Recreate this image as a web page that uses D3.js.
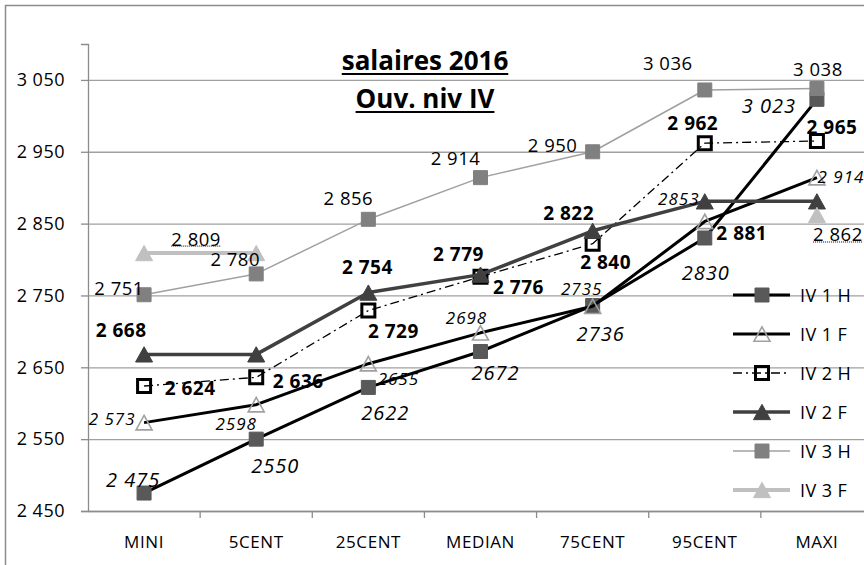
<!DOCTYPE html>
<html>
<head>
<meta charset="utf-8">
<script src="https://cdn.jsdelivr.net/npm/d3@7"></script>
<style>
  html, body { margin: 0; padding: 0; background: #fff; }
  svg { display: block; font-family: 'Open Sans', sans-serif; }
</style>
</head>
<body>
<div class="chart"></div>
<script>
// catégories et séries
let categories = ['MINI', '5CENT', '25CENT', 'MEDIAN', '75CENT', '95CENT', 'MAXI']
let seriesNames = ['IV 1 H', 'IV 1 F', 'IV 2 H', 'IV 2 F', 'IV 3 H', 'IV 3 F']
let iv1H = [2475, 2550, 2622, 2672, 2736, 2830, 3023]
let iv1F = [2573, 2598, 2655, 2698, 2735, 2853, 2914]
let iv2H = [2624, 2636, 2729, 2776, 2822, 2962, 2965]
let iv2F = [2668, 2668, 2754, 2779, 2840, 2881, 2881]
let iv3H = [2751, 2780, 2856, 2914, 2950, 3036, 3038]
let iv3F = [2809, 2809, null, null, null, null, 2862]
// étiquettes de données telles qu'affichées
let lab1H = ['2 475', '2550', '2622', '2672', '2736', '2830', '3 023']
let lab1F = ['2 573', '2598', '2655', '2698', '2735', '2853', '2 914']
let lab2H = ['2 624', '2 636', '2 729', '2 776', '2 840', '2 962', '2 965']
let lab2F = ['2 668', null, '2 754', '2 779', '2 822', '2 881', null]
let lab3H = ['2 751', '2 780', '2 856', '2 914', '2 950', '3 036', '3 038']
let lab3F = ['2 809', null, null, null, null, null, '2 862']
let yTicks = [2450, 2550, 2650, 2750, 2850, 2950, 3050]
let yTickLabels = ['2 450', '2 550', '2 650', '2 750', '2 850', '2 950', '3 050']
let title = ['salaires 2016', 'Ouv. niv IV']

let W = 864
let H = 565
let plot = { left: 88, right: 873, top: 44, bottom: 511 }

let svg = d3.select('.chart').append('svg')
  .attr('width', W)
  .attr('height', H)

let x = d3.scaleBand().domain(categories).range([plot.left, plot.right])
let y = d3.scaleLinear().domain([2450, 3100]).range([plot.bottom, plot.top])
let cx = (c) => x(c) + x.bandwidth() / 2

// cadre du graphique
svg.append('rect')
  .attr('x', 5.5).attr('y', 5.5)
  .attr('width', W + 20).attr('height', H + 20)
  .attr('fill', 'none')
  .attr('stroke', '#8c8c8c')
  .attr('stroke-width', 1.5)

// quadrillage
svg.append('g')
  .attr('transform', `translate(${plot.left},0)`)
  .call(d3.axisLeft(y).tickValues(yTicks).tickSize(-(W - plot.left)).tickFormat(''))
  .call(g => g.select('.domain').remove())
  .call(g => g.selectAll('line').attr('stroke', '#a0a0a0').attr('stroke-width', 1.3))

// axe Y
let gy = svg.append('g')
  .attr('transform', `translate(${plot.left},0)`)
  .call(d3.axisLeft(y).tickValues(yTicks).tickSize(7).tickPadding(16)
    .tickFormat((d, i) => yTickLabels[i]))
gy.select('.domain').attr('stroke', '#8c8c8c').attr('stroke-width', 1.3)
gy.selectAll('line').attr('stroke', '#8c8c8c').attr('stroke-width', 1.3)
gy.selectAll('text').attr('font-size', 18).attr('fill', '#000')
  .attr('font-family', 'Open Sans').attr('letter-spacing', 0.5)

// axe X
let gx = svg.append('g')
  .attr('transform', `translate(0,${plot.bottom})`)
  .call(d3.axisBottom(x).tickSize(0).tickPadding(25))
gx.select('.domain').attr('stroke', '#8c8c8c').attr('stroke-width', 1.3)
gx.selectAll('text').attr('font-size', 17).attr('fill', '#000')
  .attr('font-family', 'Open Sans').attr('letter-spacing', 0.6)
gx.selectAll('.xtick')
  .data(categories)
  .enter().append('line')
  .attr('class', 'xtick')
  .attr('x1', d => x(d) + x.bandwidth())
  .attr('x2', d => x(d) + x.bandwidth())
  .attr('y1', 0).attr('y2', 7)
  .attr('stroke', '#8c8c8c').attr('stroke-width', 1.3)

// marqueurs
function square (s) {
  return `M${-s / 2},${-s / 2}h${s}v${s}h${-s}Z`
}
function triangle (s) {
  let h = s * 0.9
  return `M0,${-h / 2}L${s / 2},${h / 2}L${-s / 2},${h / 2}Z`
}

let series = [
  { name: seriesNames[0], values: iv1H, labels: lab1H, line: '#000', lw: 3, dash: null,
    marker: square(14), mfill: '#595959', mstroke: '#595959', msw: 1,
    font: { size: 20, weight: 'normal', style: 'italic' },
    off: [[-11, -14], [19, 26], [17, 25], [15, 21], [8, 28], [1, 35], [-48, 6]] },
  { name: seriesNames[1], values: iv1F, labels: lab1F, line: '#000', lw: 3, dash: null,
    marker: triangle(16), mfill: 'none', mstroke: '#a0a0a0', msw: 1.6,
    font: { size: 17, weight: 'normal', style: 'italic' },
    off: [[-32, -4], [-20, 19], [30, 15], [-14, -15], [-11, -18], [-26, -23], [24, -1]] },
  { name: seriesNames[2], values: iv2H, labels: lab2H, line: '#000', lw: 1.3, dash: '9,4,2,4',
    marker: square(13), mfill: 'none', mstroke: '#000', msw: 3,
    font: { size: 19, weight: 'bold', style: 'normal' },
    off: [[46, 2], [42, 4], [25, 20], [38, 10], [13, 18], [-12, -20], [15, -14]] },
  { name: seriesNames[3], values: iv2F, labels: lab2F, line: '#404040', lw: 3.5, dash: null,
    marker: triangle(17), mfill: '#404040', mstroke: '#404040', msw: 1,
    font: { size: 19, weight: 'bold', style: 'normal' },
    off: [[-23, -24], [0, 0], [-1, -26], [-22, -21], [-24, -18], [37, 32], [0, 0]] },
  { name: seriesNames[4], values: iv3H, labels: lab3H, line: '#a0a0a0', lw: 1.5, dash: null,
    marker: square(14), mfill: '#808080', mstroke: '#808080', msw: 1,
    font: { size: 18.5, weight: 'normal', style: 'normal' },
    off: [[-25, -7], [-21, -15], [-20, -22], [-25, -20], [-40, -7], [-37, -27], [1, -20]] },
  { name: seriesNames[5], values: iv3F, labels: lab3F, line: '#c0c0c0', lw: 4, dash: null,
    marker: triangle(17), mfill: '#c0c0c0', mstroke: '#c0c0c0', msw: 1,
    font: { size: 18.5, weight: 'normal', style: 'normal' }, dotted: true,
    off: [[52, -15], [0, 0], [0, 0], [0, 0], [0, 0], [0, 0], [21, 19]] }
]

let line = d3.line()
  .defined(d => d.v !== null)
  .x(d => cx(d.c))
  .y(d => y(d.v))

series.forEach(s => {
  let pts = categories.map((c, i) => ({ c: c, v: s.values[i] }))
  let g = svg.append('g').attr('class', 'serie')
  g.append('path')
    .datum(pts)
    .attr('d', line)
    .attr('fill', 'none')
    .attr('stroke', s.line)
    .attr('stroke-width', s.lw)
    .attr('stroke-dasharray', s.dash)
    .attr('stroke-linejoin', 'round')
  g.selectAll('.mk')
    .data(pts.filter(d => d.v !== null))
    .enter().append('path')
    .attr('class', 'mk')
    .attr('d', s.marker)
    .attr('transform', d => `translate(${cx(d.c)},${y(d.v)})`)
    .attr('fill', s.mfill)
    .attr('stroke', s.mstroke)
    .attr('stroke-width', s.msw)
})

// étiquettes de données (au-dessus des séries)
series.forEach(s => {
  let pts = categories.map((c, i) => ({ c: c, v: s.values[i], t: s.labels[i], o: s.off[i] }))
    .filter(d => d.v !== null && d.t)
  let g = svg.append('g').attr('class', 'labels')
  let txt = g.selectAll('text')
    .data(pts)
    .enter().append('text')
    .attr('x', d => cx(d.c) + d.o[0])
    .attr('y', d => y(d.v) + d.o[1])
    .attr('text-anchor', 'middle')
    .attr('dominant-baseline', 'central')
    .attr('font-size', s.font.size)
    .attr('font-weight', s.font.weight)
    .attr('font-style', s.font.style)
    .attr('letter-spacing', s.font.style === 'italic' ? 1 : 0.5)
    .attr('fill', '#000')
    .text(d => d.t)
  if (s.dotted) {
    txt.each(function (d) {
      let w = this.getComputedTextLength()
      g.append('line')
        .attr('x1', cx(d.c) + d.o[0] - w / 2)
        .attr('x2', cx(d.c) + d.o[0] + w / 2)
        .attr('y1', y(d.v) + d.o[1] + 8)
        .attr('y2', y(d.v) + d.o[1] + 8)
        .attr('stroke', '#000')
        .attr('stroke-width', 1)
        .attr('stroke-dasharray', '1,1')
    })
  }
})

// titre souligné
let tg = svg.append('g').attr('class', 'title')
title.forEach((t, i) => {
  let base = i === 0 ? 70 : 108
  let node = tg.append('text')
    .attr('x', 425)
    .attr('y', base)
    .attr('text-anchor', 'middle')
    .attr('font-size', 26)
    .attr('font-weight', 'bold')
    .attr('fill', '#000')
    .text(t)
  let w = node.node().getComputedTextLength()
  tg.append('line')
    .attr('x1', 425 - w / 2).attr('x2', 425 + w / 2)
    .attr('y1', base + 4).attr('y2', base + 4)
    .attr('stroke', '#000').attr('stroke-width', 2.2)
})

// légende
let legend = svg.append('g').attr('class', 'legend')
series.forEach((s, i) => {
  let ly = 295 + i * 39
  let row = legend.append('g').attr('transform', `translate(733,${ly})`)
  row.append('line')
    .attr('x1', 0).attr('x2', 57)
    .attr('stroke', s.line)
    .attr('stroke-width', s.lw)
    .attr('stroke-dasharray', s.dash)
  row.append('path')
    .attr('d', s.marker)
    .attr('transform', 'translate(29,0)')
    .attr('fill', s.mfill)
    .attr('stroke', s.mstroke)
    .attr('stroke-width', s.msw)
  row.append('text')
    .attr('x', 67)
    .attr('dominant-baseline', 'central')
    .attr('font-size', 18)
    .attr('letter-spacing', 0.4)
    .attr('fill', '#000')
    .text(s.name)
})
</script>
</body>
</html>
